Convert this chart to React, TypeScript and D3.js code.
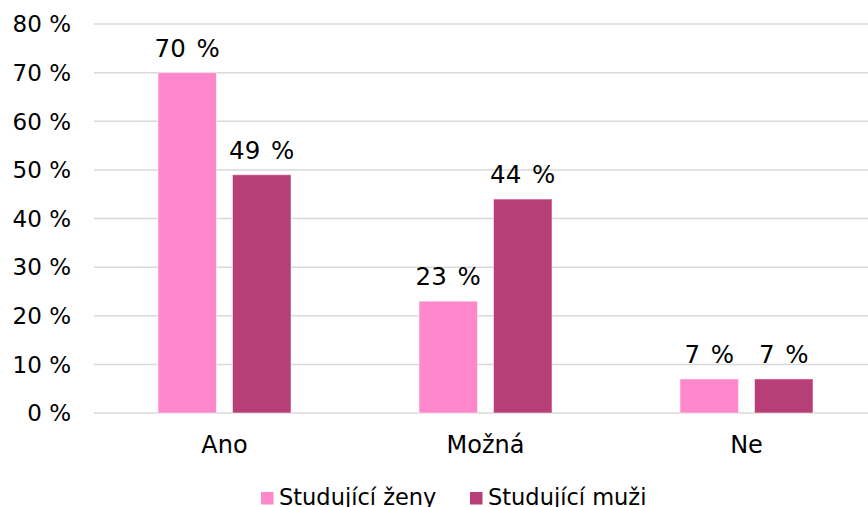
import React from "react";
import * as d3 from "d3";

const categories = ["Ano", "Možná", "Ne"];
const seriesNames = ["Studující ženy", "Studující muži"];
const zeny = [70, 23, 7];
const muzi = [49, 44, 7];
const yTicks = [0, 10, 20, 30, 40, 50, 60, 70, 80];
const colors = ["#FF88CC", "#B83E78"];

const W = 868;
const H = 507;
const FONT = "'DejaVu Sans', Verdana, sans-serif";

export default function App() {
  const values = [zeny, muzi];
  const y = d3.scaleLinear().domain([0, 80]).range([413, 24]);
  const x0 = d3.scaleBand<string>().domain(categories).range([94, 877]).paddingInner(0).paddingOuter(0);
  const groupW = 133;
  const off = (x0.bandwidth() - groupW) / 2;
  const x1 = d3.scaleBand<string>().domain(seriesNames).range([0, groupW]).paddingInner(0.215).paddingOuter(0);

  return (
    <svg width={W} height={H} style={{ position: "absolute", left: 0, top: 0, background: "#fff" }} fontFamily={FONT}>
      {yTicks.map((t) => (
        <g key={t}>
          <line x1={94} x2={W} y1={y(t)} y2={y(t)} stroke="#D9D9D9" strokeWidth={1.5} />
          <text x={71} y={y(t)} dy="0.36em" textAnchor="end" fontSize={23} fill="#000">
            {t} %
          </text>
        </g>
      ))}
      {categories.map((c, ci) => (
        <g key={c}>
          {seriesNames.map((s, si) => {
            const v = values[si][ci];
            const bx = (x0(c) as number) + off + (x1(s) as number);
            const bw = x1.bandwidth();
            return (
              <g key={s}>
                <rect x={bx} y={y(v)} width={bw} height={y(0) - y(v)} fill={colors[si]} stroke="#ffffff" strokeOpacity={0.5} strokeWidth={1} />
                <text x={bx + bw / 2} y={y(v) - 16} textAnchor="middle" fontSize={24.5} wordSpacing={3} fill="#000">
                  {v} %
                </text>
              </g>
            );
          })}
          <text x={(x0(c) as number) + x0.bandwidth() / 2} y={453} textAnchor="middle" fontSize={24} fill="#000">
            {c}
          </text>
        </g>
      ))}
      {seriesNames.map((s, si) => {
        const lx = [261, 470][si];
        return (
          <g key={s}>
            <rect x={lx} y={492} width={12.5} height={12.5} fill={colors[si]} />
            <text x={lx + 18} y={505} fontSize={22.5} fill="#000">
              {s}
            </text>
          </g>
        );
      })}
    </svg>
  );
}
